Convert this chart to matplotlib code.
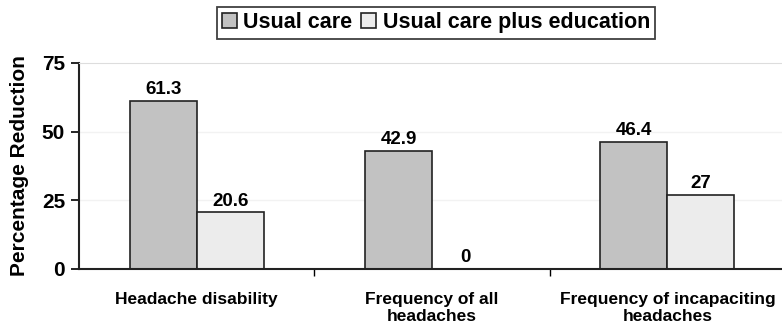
import matplotlib.pyplot as plt
import numpy as np

plt.rcParams["font.family"] = ["Liberation Sans", "DejaVu Sans"]
plt.rcParams["font.weight"] = "bold"

categories = ["Headache disability", "Frequency of all\nheadaches",
              "Frequency of incapaciting\nheadaches"]
usual_care = [61.3, 42.9, 46.4]
usual_care_edu = [20.6, 0, 27]
series_names = ["Usual care", "Usual care plus education"]

fig = plt.figure(figsize=(7.82, 3.25), dpi=100)
ax = fig.add_axes([79 / 782, 1 - 269 / 325, 703 / 782, 206 / 325])

x = np.arange(len(categories))
w = 0.285
b1 = ax.bar(x - w / 2, usual_care, w, color="#c2c2c2", edgecolor="#222222",
            linewidth=1.2, label=series_names[0])
b2 = ax.bar(x + w / 2, usual_care_edu, w, color="#ececec", edgecolor="#222222",
            linewidth=1.2, label=series_names[1])

for bars, vals in ((b1, usual_care), (b2, usual_care_edu)):
    for rect, v in zip(bars, vals):
        ax.annotate(f"{v:g}", (rect.get_x() + rect.get_width() / 2, v),
                    xytext=(0, 2), textcoords="offset points",
                    ha="center", va="bottom", fontsize=13.5, fontweight="bold")

ax.set_xlim(-0.5, 2.487)
ax.set_ylim(0, 75)
ax.set_yticks([0, 25, 50, 75])
ax.tick_params(axis="y", labelsize=15, length=6, width=1.2, direction="out",
               pad=4)

# category boundaries as ticks, labels at the centres
ax.set_xticks([0.5, 1.5])
ax.set_xticklabels([])
ax.tick_params(axis="x", length=5, width=1, direction="out")
for xi, lab in zip(x, categories):
    ax.text(xi, -8.5, lab, ha="center", va="top", fontsize=12.5,
            fontweight="bold", transform=ax.transData, linespacing=1.15)

ax.set_ylabel("Percentage Reduction", fontsize=15, fontweight="bold", labelpad=9)

ax.spines["right"].set_visible(False)
ax.spines["top"].set_color("#dddddd")
ax.spines["left"].set_linewidth(1.5)
ax.spines["bottom"].set_linewidth(1.5)
ax.spines["left"].set_color("#222222")
ax.spines["bottom"].set_color("#222222")

for yv in (25, 50):
    ax.axhline(yv, color="#f2f2f2", linewidth=1, zorder=0)

leg = fig.legend(handles=[b1, b2], loc="upper center",
                 bbox_to_anchor=(436 / 782, 1 - 7 / 325), ncol=2,
                 fontsize=15.5, frameon=True, fancybox=False,
                 edgecolor="#111111", handlelength=0.7, handleheight=0.7,
                 handletextpad=0.3, columnspacing=0.4, borderpad=0.25,
                 borderaxespad=0)
leg.get_frame().set_linewidth(1.3)
for t in leg.get_texts():
    t.set_fontweight("bold")

fig.savefig("out.png", dpi=100)
